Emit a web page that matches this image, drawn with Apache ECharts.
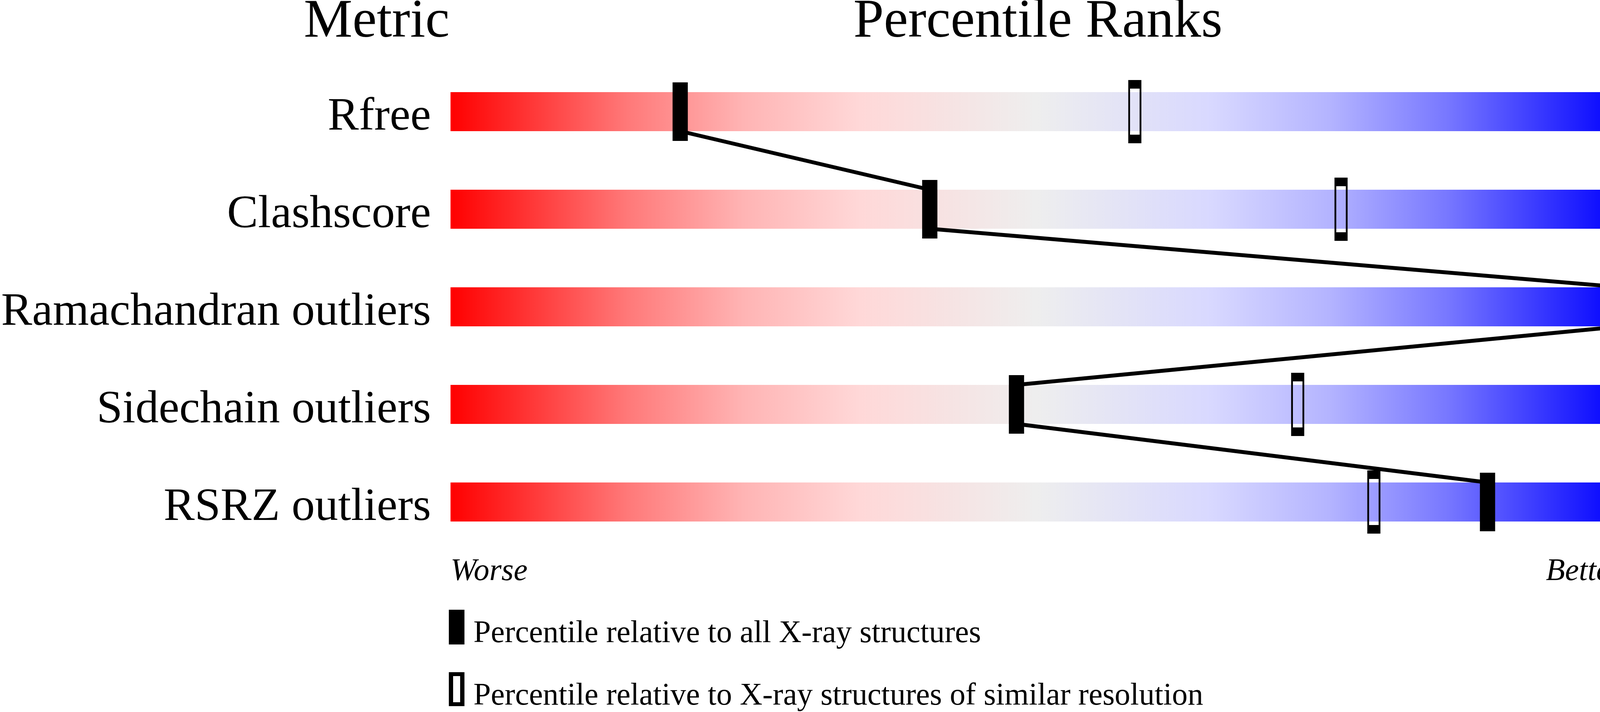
<!DOCTYPE html>
<html>
<head>
<meta charset="utf-8">
<script src="https://cdn.jsdelivr.net/npm/echarts@6/dist/echarts.min.js"></script>
<style>
html,body{margin:0;padding:0;background:#fff;}
#chart{width:4485px;height:1824px;}
</style>
</head>
<body>
<div id="chart"></div>
<script>
// ---- data ----
const metrics = ['Rfree', 'Clashscore', 'Ramachandran outliers', 'Sidechain outliers', 'RSRZ outliers'];
const valueLabels = ['0.267', '7', '0', '2.0%', '0.4%'];
const pctAll = [19.6, 40.9, 100, 48.3, 88.5];
const pctSimilar = [58.4, 76.0, null, 72.3, 78.8];
const headerTexts = ['Metric', 'Percentile Ranks', 'Value'];
const axisEnds = ['Worse', 'Better'];
const legendNames = ['Percentile relative to all X-ray structures',
                     'Percentile relative to X-ray structures of similar resolution'];

// ---- style ----
const FONT = '"Liberation Serif", "Times New Roman", serif';
const BAR_H = 100;
const chart = echarts.init(document.getElementById('chart'));

const gradient = new echarts.graphic.LinearGradient(0, 0, 1, 0, [
  {offset: 0, color: '#ff0000'},
  {offset: 0.15, color: '#ff7878'},
  {offset: 0.25, color: '#ffb4b4'},
  {offset: 0.35, color: '#ffd8d8'},
  {offset: 0.5, color: '#eeeeee'},
  {offset: 0.65, color: '#d8d8ff'},
  {offset: 0.75, color: '#b4b4ff'},
  {offset: 0.85, color: '#7878ff'},
  {offset: 1, color: '#0000ff'}
]);

const segData = [];
for (let i = 0; i < pctAll.length - 1; i++) {
  segData.push([pctAll[i], i, pctAll[i + 1], i + 1]);
}
const allData = pctAll.map((p, i) => [p, i]);
const simData = pctSimilar.map((p, i) => p == null ? null : [p, i]).filter(d => d);

const catLabel = {
  fontFamily: FONT, fontSize: 119, color: '#000',
  verticalAlign: 'top', lineHeight: 30
};

chart.setOption({
  backgroundColor: '#ffffff',
  animation: false,
  grid: {left: 1153, right: 332, top: 161, height: 1250, containLabel: false},
  xAxis: {
    type: 'value', min: 0, max: 100, interval: 100,
    axisLine: {show: false}, axisTick: {show: false}, splitLine: {show: false},
    axisLabel: {
      show: true, margin: 14,
      fontFamily: FONT, fontSize: 80, fontStyle: 'italic', color: '#000',
      alignMinLabel: 'left', alignMaxLabel: 'right',
      formatter: v => v === 0 ? axisEnds[0] : (v === 100 ? axisEnds[1] : '')
    }
  },
  yAxis: [{
    type: 'category', data: metrics, inverse: true,
    axisLine: {show: false}, axisTick: {show: false}, splitLine: {show: false},
    axisLabel: Object.assign({margin: 50}, catLabel)
  }, {
    type: 'category', data: valueLabels, inverse: true, position: 'right',
    axisLine: {show: false}, axisTick: {show: false}, splitLine: {show: false},
    axisLabel: Object.assign({margin: 53}, catLabel)
  }],
  legend: {
    orient: 'vertical', left: 1149, top: 1562, height: 300, padding: 0,
    itemWidth: 40, itemHeight: 123, itemGap: 37,
    selectedMode: false,
    textStyle: {fontFamily: FONT, fontSize: 80, color: '#000', padding: [0, 0, 0, 18]},
    data: [
      {name: legendNames[0], icon: 'path://M0,0H40V89H0Z M0,123L0.01,123Z', itemStyle: {color: '#000', borderWidth: 0}},
      {name: legendNames[1], icon: 'path://M0,0H40V87H0Z M11,10V77H29V10Z M0,123L0.01,123Z', itemStyle: {color: '#000', borderWidth: 0}}
    ]
  },
  graphic: [
    {type: 'text', x: 1151, y: 57, style: {text: headerTexts[0], font: '140px ' + FONT, fill: '#000', align: 'right', verticalAlign: 'middle'}},
    {type: 'text', x: 2657, y: 57, style: {text: headerTexts[1], font: '140px ' + FONT, fill: '#000', align: 'center', verticalAlign: 'middle'}},
    {type: 'text', x: 4155, y: 57, style: {text: headerTexts[2], font: '140px ' + FONT, fill: '#000', align: 'left', verticalAlign: 'middle'}}
  ],
  series: [
    {
      type: 'bar', name: 'scale', data: metrics.map(() => 100), barWidth: BAR_H,
      itemStyle: {color: gradient}, silent: true, z: 1
    },
    {
      type: 'custom', name: 'link', data: segData, z: 3, silent: true,
      encode: {x: [0, 2], y: [1, 3]},
      renderItem: function (params, api) {
        const a = api.coord([api.value(0), api.value(1)]);
        const b = api.coord([api.value(2), api.value(3)]);
        return {
          type: 'line',
          shape: {x1: a[0], y1: a[1] + BAR_H / 2, x2: b[0], y2: b[1] - BAR_H / 2},
          style: {stroke: '#000', lineWidth: 10}
        };
      }
    },
    {
      type: 'scatter', name: legendNames[1], data: simData, clip: false, z: 4,
      symbol: 'rect', symbolSize: [29, 140],
      itemStyle: {color: 'rgba(0,0,0,0)', borderColor: '#000', borderWidth: 10, opacity: 1}
    },
    {
      type: 'scatter', name: legendNames[0], data: allData, clip: false, z: 5,
      symbol: 'rect', symbolSize: [39, 150],
      itemStyle: {color: '#000', opacity: 1}
    }
  ]
});
</script>
</body>
</html>
